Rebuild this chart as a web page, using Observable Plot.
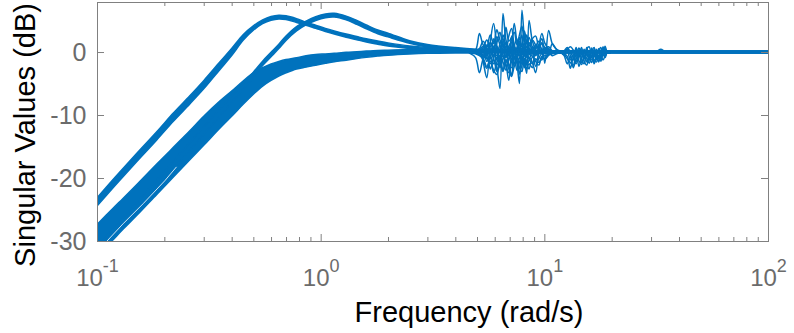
<!DOCTYPE html>
<html><head><meta charset="utf-8">
<script src="https://cdn.jsdelivr.net/npm/d3@7"></script>
<script src="https://cdn.jsdelivr.net/npm/@observablehq/plot@0.6"></script>
<style>html,body{margin:0;padding:0;background:#fff}</style>
</head><body><div id="chart"></div>
<script>
// ---- data ----
const freq   = [0.1, 0.118, 0.131, 0.15, 0.185, 0.22, 0.26, 0.3, 0.354, 0.4, 0.45, 0.5, 0.55, 0.6, 0.65, 0.7, 0.78, 0.86, 0.95, 1.05, 1.15, 1.3, 1.45, 1.6, 1.8, 2.0, 2.5, 3.0, 4.0, 5.0, 7, 10, 20, 50, 100];
// band A: first resonance (peak ~0.65 rad/s)
const aUpper = [-23.15, -20.25, -18.45, -16.15, -12.65, -9.65, -6.95, -4.55, -1.6, 0.55, 2.75, 4.15, 5.1, 5.65, 5.85, 5.75, 5.3, 4.75, 4.25, 3.75, 3.35, 2.85, 2.45, 2.1, 1.75, 1.45, 0.95, 0.7, 0.5, 0.35, 0.25, 0.2, 0.17, 0.15, 0.15];
const aLower = [-24.45, -21.55, -19.75, -17.45, -13.95, -10.95, -8.25, -5.85, -2.8, -0.55, 1.85, 3.45, 4.5, 5.05, 5.25, 5.15, 4.7, 4.25, 3.75, 3.25, 2.85, 2.35, 1.95, 1.6, 1.25, 0.95, 0.55, 0.3, 0.1, 0.05, -0.05, -0.1, -0.13, -0.15, -0.15];
// band B: second resonance (peak ~1.1 rad/s)
const bUpper = [-31.0, -28.1, -26.3, -24.0, -20.3, -17.3, -14.4, -11.9, -9.0, -7.0, -5.05, -3.2, -1.45, -0.05, 1.25, 2.55, 4.05, 4.9, 5.6, 6.05, 6.15, 5.7, 5.0, 4.3, 3.5, 3.0, 1.8, 1.2, 0.7, 0.45, 0.3, 0.2, 0.17, 0.15, 0.15];
const bLower = [-32.2, -29.3, -27.5, -25.2, -21.5, -18.5, -15.6, -13.1, -10.2, -8.0, -5.95, -4.0, -2.15, -0.75, 0.55, 1.85, 3.35, 4.3, 5.0, 5.45, 5.55, 5.1, 4.4, 3.7, 2.9, 2.4, 1.4, 0.8, 0.3, 0.15, 0.0, -0.1, -0.13, -0.15, -0.15];
// bundle C: well-damped singular values
const cUpper = [-27.4, -24.8, -23.2, -21.1, -17.8, -15.1, -12.5, -10.2, -7.8, -6.2, -4.6, -3.3, -2.5, -1.9, -1.5, -1.2, -0.9, -0.6, -0.4, -0.3, -0.2, -0.05, 0.05, 0.15, 0.25, 0.3, 0.4, 0.4, 0.35, 0.3, 0.25, 0.2, 0.15, 0.15, 0.15];
const cLower = [-32.5, -29.8, -28.1, -26.0, -22.6, -19.8, -17.1, -14.8, -12.1, -10.2, -8.3, -6.7, -5.4, -4.5, -3.8, -3.3, -2.7, -2.4, -2.1, -1.8, -1.55, -1.3, -1.05, -0.85, -0.65, -0.5, -0.3, -0.2, -0.15, -0.15, -0.15, -0.15, -0.15, -0.15, -0.15];
// thin gap inside the bundle near its lowest line
const gapFreq  = [0.104, 0.13, 0.16, 0.2, 0.225];
const gapLevel = [-30.9, -27.2, -24.0, -20.35, -18.2];
// resonant wiggles, 5-12 rad/s
const noiseFreq1 = [4.6, 4.9, 5.1, 5.3, 5.5, 5.7, 5.9, 6.1, 6.3, 6.5, 6.7, 6.9, 7.1, 7.3, 7.5, 7.7, 7.9, 8.1, 8.3, 8.5, 8.8, 9.1, 9.4, 9.7, 10.0, 10.4, 10.8, 11.3, 11.8, 12.4];
const noise1 = [
  [0.1, 0.4, 3.0, 1.2, 0.6, 0.3, 1.0, -0.5, 0.4, 1.2, 0.3, -0.4, 0.5, 0.2, -0.3, 0.4, 0.6, 0.2, 0.0, 0.3, 0.2, -0.1, 0.2, 0.1, 0.0, 0.1, 0.0, 0.0, 0.0, 0.0],
  [-0.1, -0.8, -3.2, -1.0, -0.2, 0.5, -0.6, 0.8, -1.5, 0.4, -0.8, 0.6, -0.3, 0.8, 0.2, -0.5, 0.3, -0.4, 0.2, 0.5, -0.2, 0.3, -0.1, 0.2, 0.0, 0.1, 0.0, 0.0, 0.0, 0.0],
  [0.0, 0.2, 0.5, -1.5, -4.0, 1.5, 4.6, 1.0, -2.0, 0.8, 1.5, -0.5, 0.6, 0.2, -0.8, 0.5, 1.0, -0.3, 0.4, 0.2, -0.2, 0.3, 0.1, -0.1, 0.1, 0.0, 0.0, 0.0, 0.0, 0.0],
  [0.0, 0.1, 0.3, 0.5, 1.2, 0.3, -1.0, -2.5, -5.7, 6.2, 2.0, 0.5, -1.2, 1.0, 2.2, -0.6, 0.4, 1.5, -0.8, 0.6, 0.3, -0.5, 0.4, 0.2, 0.0, 0.1, 0.0, 0.0, 0.0, 0.0],
  [0.0, 0.0, 0.2, 0.4, 0.8, 1.5, 0.6, 2.5, 1.2, -0.5, -1.8, -4.4, 0.5, 4.6, 1.8, 0.6, -1.5, 0.8, 1.6, -0.4, 0.9, 0.4, -0.3, 0.5, 0.2, 0.0, 0.1, 0.0, 0.0, 0.0],
  [0.0, 0.0, 0.1, 0.3, 0.5, 0.9, 1.8, 1.0, 0.5, 2.8, 1.2, 0.4, 2.0, 0.8, -1.5, -4.9, 6.7, 2.5, 0.8, 1.6, 0.4, 1.2, 0.6, 0.3, 0.5, 0.2, 0.1, 0.0, 0.0, 0.0],
  [0.0, -0.1, -0.3, -0.6, -1.0, -0.5, -1.8, -0.8, -0.4, -1.5, -2.8, -1.0, -0.5, -2.2, -1.2, 0.5, -0.8, -1.5, -3.3, 5.1, 1.8, 0.6, 1.2, 0.5, 0.3, 0.2, 0.1, 0.0, 0.0, 0.0],
  [0.0, 0.0, -0.2, -0.4, -0.8, -1.8, -1.2, -3.0, -1.0, -0.6, -2.2, -3.2, -1.4, -0.7, -2.8, -1.5, -0.6, -2.4, -1.2, -0.8, -1.6, -3.2, 0.8, 3.0, 1.5, 0.6, 0.3, 0.1, 0.0, 0.0],
  [0.0, 0.1, 0.3, 0.8, 2.0, 0.6, -0.4, 1.5, 3.2, 1.0, 0.2, 2.6, 3.8, 1.2, 0.4, 2.4, 1.0, 3.4, 1.6, 0.5, 2.0, 1.2, 0.6, 1.6, -1.7, 3.5, 1.4, 0.5, 0.2, 0.0],
  [0.0, 0.0, -0.4, -1.2, -2.5, -0.8, -3.2, -1.6, -0.5, -2.8, -1.2, -2.0, -3.6, -1.0, -0.6, -2.4, -3.0, -0.9, -1.8, -2.6, -0.7, -1.4, -2.0, -0.6, -1.0, -0.4, 1.4, 0.4, 0.1, 0.0],
  [0.0, 0.2, 0.6, 1.8, 0.9, 2.8, 1.4, 3.6, 2.0, 1.0, 4.0, 1.8, 2.4, 3.2, 1.2, 2.8, 4.2, 1.6, 2.8, 1.0, 2.2, 2.6, 1.0, 1.4, 0.8, 0.5, 0.3, 0.1, 0.0, 0.0],
  [0.0, -0.2, -0.5, -0.9, -2.2, -1.4, -2.8, -3.5, -1.8, -3.0, -1.2, -2.6, -3.8, -2.2, -1.4, -3.4, -2.0, -1.2, -2.6, -1.8, -2.4, -1.0, -1.6, -0.8, -0.5, -0.4, -0.2, -0.1, 0.0, 0.0],
  [0.0, 0.1, 0.4, 1.0, -0.6, 1.6, 0.8, -1.2, 1.4, 2.2, -0.8, 1.0, 1.6, -1.0, 0.8, 1.8, -0.4, 0.6, 2.0, 0.3, -0.6, 0.9, 1.8, 0.4, 0.8, 0.3, 0.1, 0.0, 0.0, 0.0],
  [0.0, -0.1, -0.3, 0.4, -1.4, -0.6, 0.9, -2.0, -0.8, 0.6, -1.6, -0.2, 0.8, -1.8, -0.6, 0.7, -1.3, -2.0, 0.2, -1.0, -1.8, 0.4, -0.6, -1.2, 0.2, -0.3, -0.1, 0.0, 0.0, 0.0],
  [0.0, 0.0, 0.2, -0.3, 0.6, -0.8, 2.2, 0.4, -1.0, 1.8, 0.6, -1.4, 2.6, 0.2, -0.9, 1.2, 2.8, -0.6, 0.5, 2.4, 0.8, -0.4, 1.0, 2.2, 0.6, 0.9, 0.2, 0.0, 0.0, 0.0],
  [0.0, 0.0, -0.1, -0.6, -0.2, -2.6, -0.9, 0.3, -2.4, -1.0, 0.4, -1.8, -2.4, 0.3, -1.6, -0.8, -1.9, 0.2, -2.0, -1.2, 0.1, -2.2, -0.9, -0.2, -1.2, 0.0, -0.5, -0.2, 0.0, 0.0]
];
// smaller wiggles, 12-19 rad/s
const noiseFreq2 = [11.8, 12.2, 12.6, 13.0, 13.4, 13.8, 14.2, 14.6, 15.0, 15.4, 15.8, 16.2, 16.6, 17.0, 17.4, 17.8, 18.2, 18.6, 19.0, 19.6];
const noise2 = [
  [0, -0.5, -1.8, -0.6, -2.4, -1.0, -0.4, -1.6, -0.8, -0.3, -1.2, -0.6, -0.2, -0.9, -0.4, -1.0, -0.3, -0.6, 0.1, 0],
  [0, 0.3, 0.8, -0.4, -1.2, 0.6, -2.2, -0.8, 0.5, -1.5, -0.6, 0.7, -1.8, -0.5, 0.6, -0.8, 0.9, -0.4, 0.2, 0],
  [0, -0.2, -0.6, -2.5, -0.9, -1.8, -0.5, 0.8, -1.4, -2.0, -0.4, -1.2, -0.7, 0.5, -1.5, -0.6, -0.2, 1.0, 0.1, 0],
  [0, 0.2, 0.5, 0.9, 0.4, -0.6, 0.7, -0.3, -1.0, 0.6, 0.9, -0.8, 0.5, -1.2, 0.3, 0.8, -0.5, 0.3, 0, 0],
  [0, -0.3, -1.0, -1.6, -2.0, -0.3, -1.3, -1.9, -0.6, -0.9, -1.7, -0.4, -1.1, -1.5, -0.8, -0.4, -1.2, -0.5, 0, 0],
  [0, 0.1, 0.6, 0.2, -0.8, 0.8, -0.5, 0.4, -0.6, 0.8, -0.9, 0.2, 0.8, -0.6, -1.0, 0.4, -0.3, 0.6, 0, 0],
  [0, -0.4, 0.2, -1.2, -0.3, -1.5, 0.3, -1.1, -1.8, -0.2, -0.9, -1.6, -0.3, -1.0, -0.6, -1.4, -0.2, -0.8, 0, 0]
];
// small bump near 33 rad/s
const bumpFreq  = [29, 31.5, 33, 34.5, 37];
const bumpLevel = [0, 0.15, 0.5, 0.15, 0];
// axes
const xMajor = [0.1, 1, 10, 100];
const xMinor = [2,3,4,5,6,7,8,9].flatMap(m => [0.1, 1, 10].map(d => m * d));
const yTicks = [0, -10, -20, -30];
const yDomain = [-30, 7.94];
const xLabel = "Frequency (rad/s)";
const yLabel = "Singular Values (dB)";

// ---- style ----
const blue = "#0072BD";
const axisGray = "#808080";
const tickText = "#6b6b6b";
const W = 794, H = 333;
const mL = 97, mR = 26, mT = 2, mB = 92;
const plotW = W - mL - mR, plotH = H - mT - mB;
const majorLen = 7, minorLen = 4;

const band = (lo, hi) => freq.map((f, i) => ({f, lo: lo[i], hi: hi[i]}));
const rows = (fs, vs, id) => fs.map((f, i) => ({f, v: vs[i], id}));
const noiseRows = [
  ...noise1.flatMap((vals, k) => rows(noiseFreq1, vals, "n1-" + k)),
  ...noise2.flatMap((vals, k) => rows(noiseFreq2, vals, "n2-" + k)),
  ...rows(bumpFreq, bumpLevel, "bump")
];
const bandOpts = {x: "f", y1: "lo", y2: "hi", fill: blue, stroke: blue, strokeWidth: 1.5, curve: "catmull-rom", clip: true};

const chart = Plot.plot({
  width: W, height: H,
  marginLeft: mL, marginRight: mR, marginTop: mT, marginBottom: mB,
  style: {fontFamily: "'Liberation Sans', Arial, Helvetica, sans-serif", background: "#fff", overflow: "visible"},
  x: {type: "log", domain: [0.1, 100], axis: null, label: null},
  y: {domain: yDomain, axis: null, label: null},
  marks: [
    Plot.areaY(band(cLower, cUpper), bandOpts),
    Plot.areaY(band(bLower, bUpper), bandOpts),
    Plot.areaY(band(aLower, aUpper), bandOpts),
    Plot.line(rows(gapFreq, gapLevel, "gap"), {x: "f", y: "v", stroke: "#fff", strokeWidth: 0.9, strokeOpacity: 0.9, clip: true}),
    Plot.line(noiseRows, {x: "f", y: "v", z: "id", stroke: blue, strokeWidth: 1.5, curve: "catmull-rom", clip: true}),
    Plot.frame({stroke: axisGray, strokeWidth: 1}),
    // inward ticks, all four sides
    Plot.tickX(xMajor, {x: d => d, insetTop: plotH - majorLen, stroke: axisGray}),
    Plot.tickX(xMinor, {x: d => d, insetTop: plotH - minorLen, stroke: axisGray}),
    Plot.tickX(xMajor, {x: d => d, insetBottom: plotH - majorLen, stroke: axisGray}),
    Plot.tickX(xMinor, {x: d => d, insetBottom: plotH - minorLen, stroke: axisGray}),
    Plot.tickY(yTicks, {y: d => d, insetRight: plotW - majorLen, stroke: axisGray}),
    Plot.tickY(yTicks, {y: d => d, insetLeft: plotW - majorLen, stroke: axisGray}),
    // tick labels
    Plot.axisX(xMajor, {anchor: "bottom", tickSize: 0, tickPadding: 27.5, fontSize: 24, fill: tickText,
      tickFormat: d => String(Math.round(Math.log10(d))), label: null}),
    Plot.axisY(yTicks, {anchor: "left", tickSize: 0, tickPadding: 11, fontSize: 25, fill: tickText,
      tickFormat: d => String(d), label: null}),
    // axis titles
    Plot.text([xLabel], {text: d => d, frameAnchor: "bottom", textAnchor: "middle", lineAnchor: "middle",
      dx: 36, dy: 71.7, fontSize: 29, fill: "#000"}),
    Plot.text([yLabel], {text: d => d, frameAnchor: "left", textAnchor: "middle", lineAnchor: "middle",
      rotate: -90, dx: -71.3, dy: 13, fontSize: 29, fill: "#000"})
  ]
});

// superscript exponents on the x tick labels (10^k)
chart.querySelectorAll('g[aria-label="x-axis tick label"] text').forEach(t => {
  const k = t.textContent;
  t.textContent = "10";
  const s = document.createElementNS("http://www.w3.org/2000/svg", "tspan");
  s.setAttribute("dy", "-14");
  s.setAttribute("font-size", "18");
  s.textContent = k;
  t.appendChild(s);
});
document.getElementById("chart").appendChild(chart);
</script>
</body></html>
